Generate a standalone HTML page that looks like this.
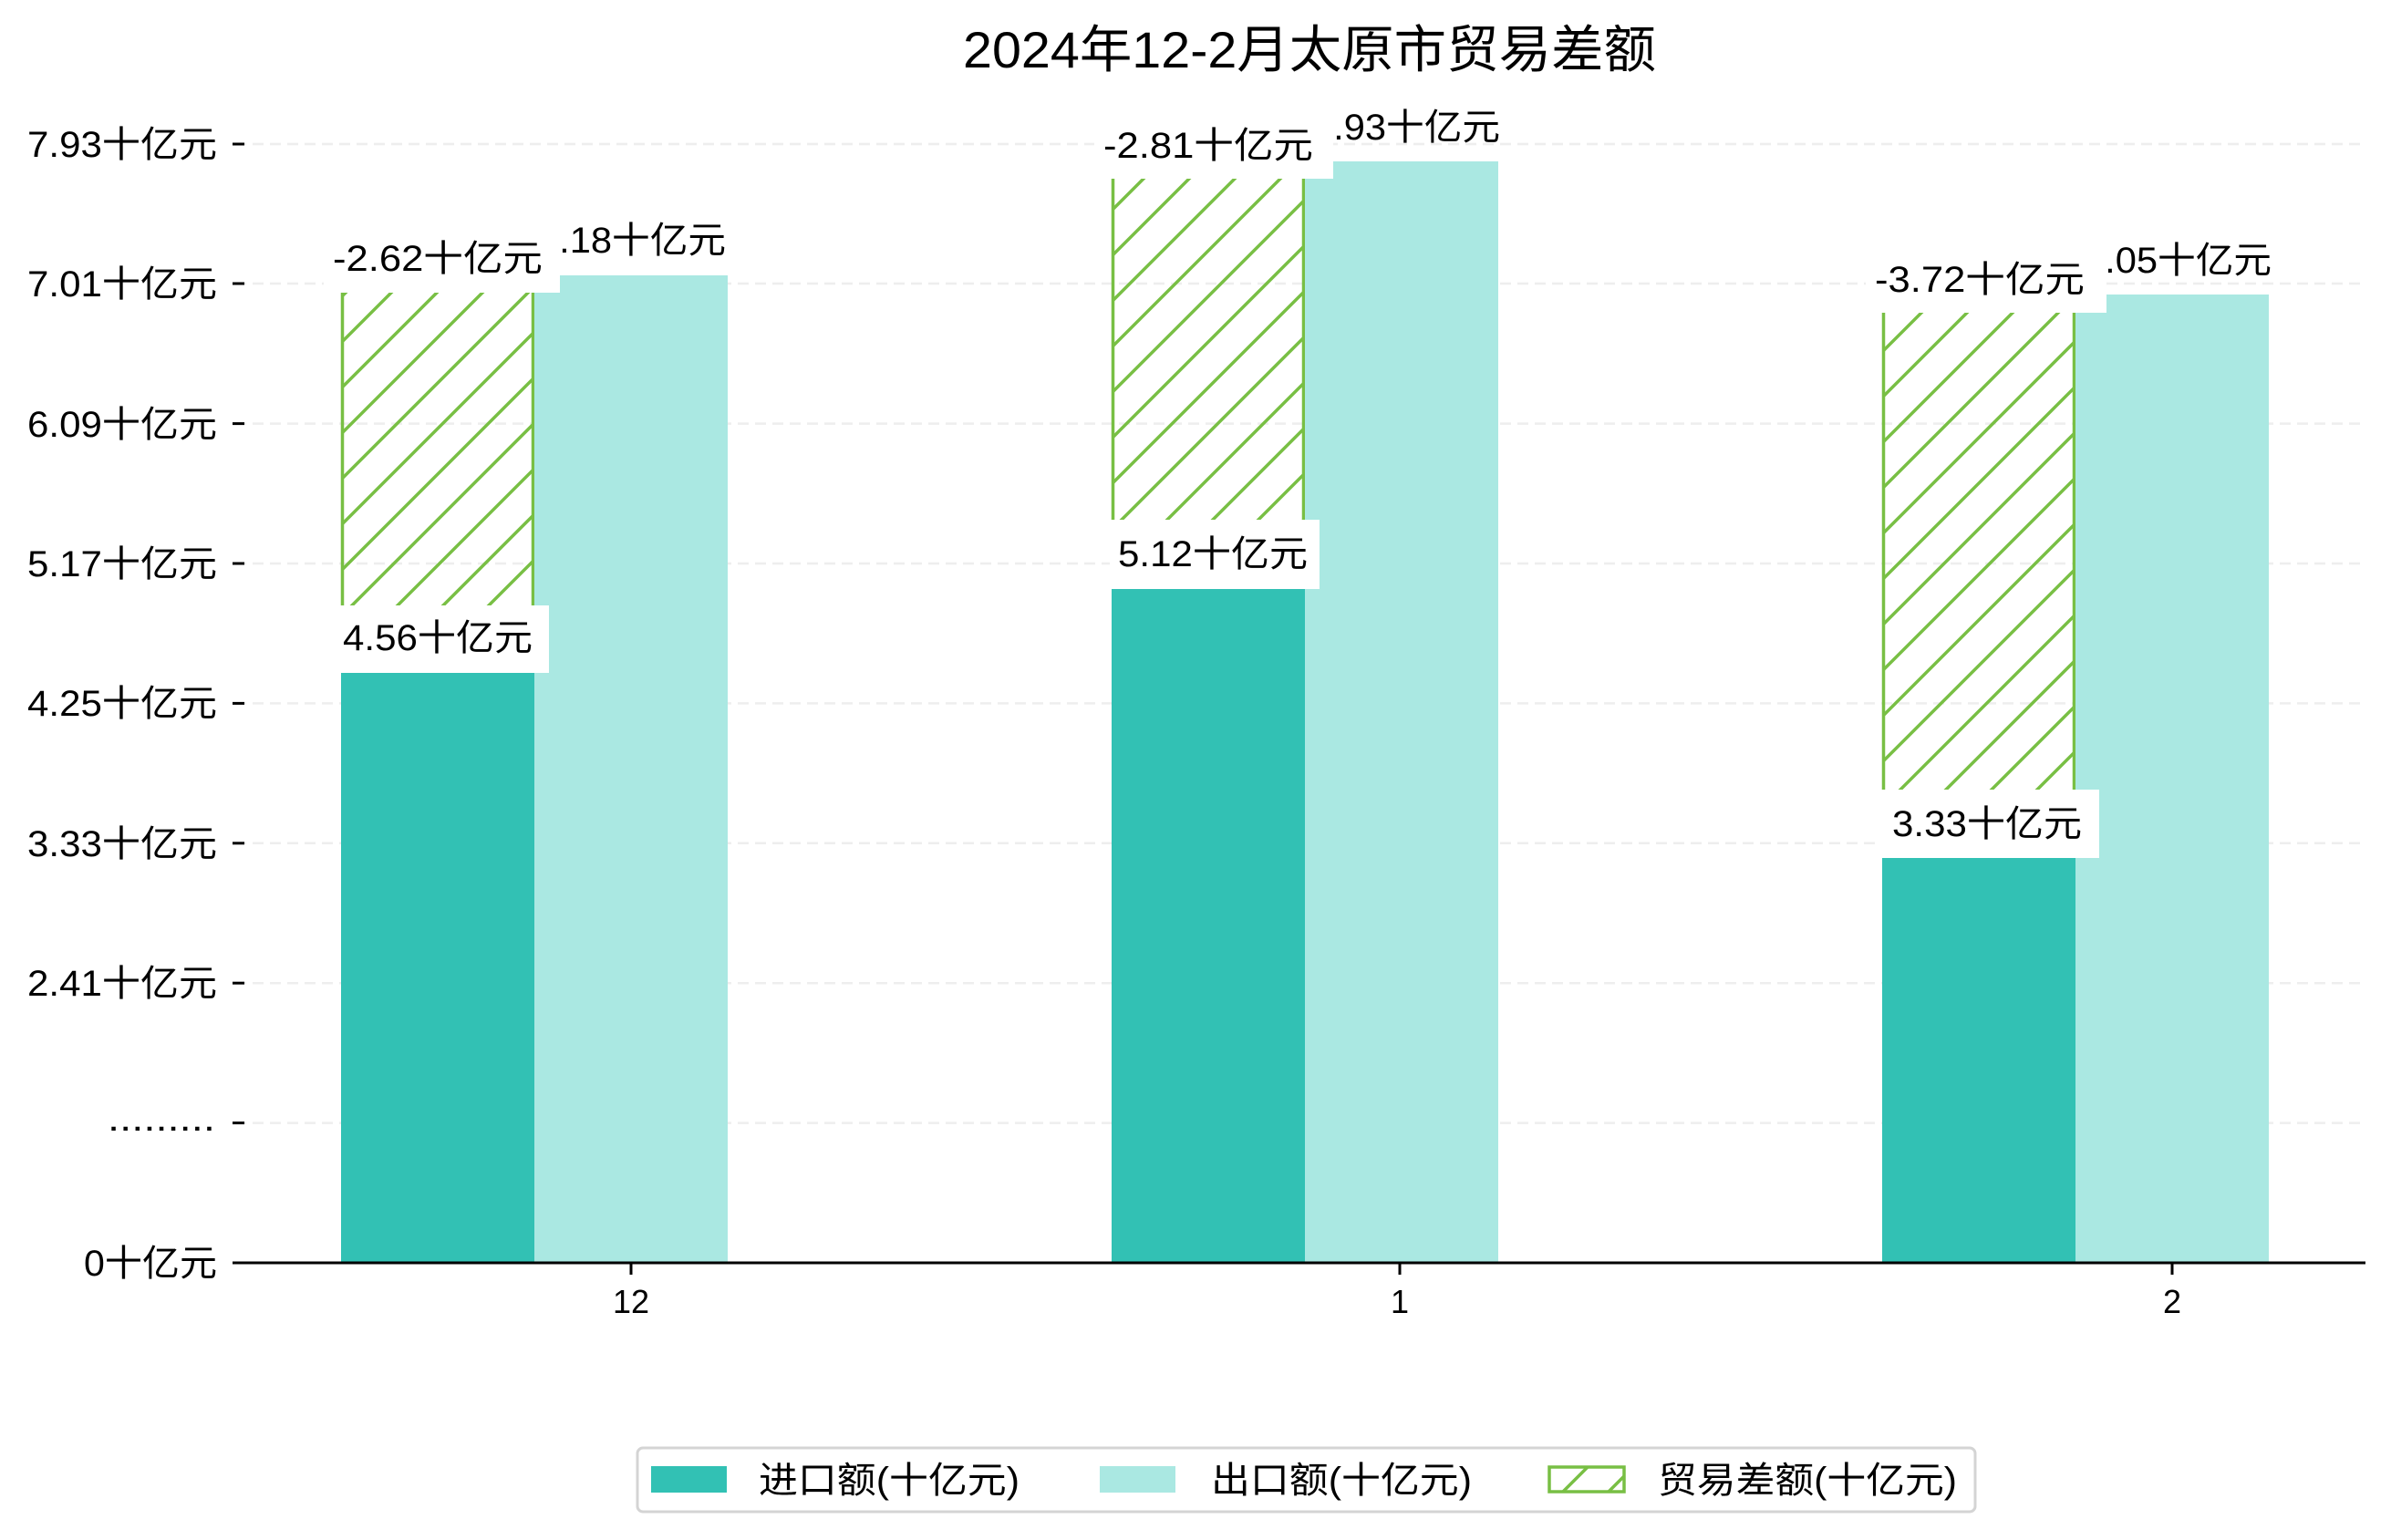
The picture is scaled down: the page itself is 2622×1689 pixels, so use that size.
<!DOCTYPE html>
<html><head><meta charset="utf-8"><style>
html,body{margin:0;padding:0;background:#fff;}
svg{display:block;}
text{font-family:"Liberation Sans","Noto Sans CJK SC",sans-serif;fill:#000;}
</style></head><body>
<svg width="2622" height="1689" viewBox="0 0 2622 1689" xmlns="http://www.w3.org/2000/svg">
<defs>
<pattern id="h" patternUnits="userSpaceOnUse" width="50" height="50">
<path d="M0,50 L50,0 M-10,10 L10,-10 M40,60 L60,40" stroke="#78bf44" stroke-width="3.5"/>
</pattern>
</defs>
<rect width="2622" height="1689" fill="#fff"/>
<text x="1436" y="74" font-size="56" text-anchor="middle" textLength="760" lengthAdjust="spacingAndGlyphs">2024年12-2月太原市贸易差额</text>
<g stroke="#eeeeee" stroke-width="2.5" stroke-dasharray="12,7">
<line x1="258" x2="2594" y1="158" y2="158"/>
<line x1="258" x2="2594" y1="311" y2="311"/>
<line x1="258" x2="2594" y1="464.6" y2="464.6"/>
<line x1="258" x2="2594" y1="618" y2="618"/>
<line x1="258" x2="2594" y1="771.4" y2="771.4"/>
<line x1="258" x2="2594" y1="924.8" y2="924.8"/>
<line x1="258" x2="2594" y1="1078.2" y2="1078.2"/>
<line x1="258" x2="2594" y1="1231.6" y2="1231.6"/>
</g>
<g stroke="#000" stroke-width="3">
<line x1="255" x2="268" y1="158" y2="158"/>
<line x1="255" x2="268" y1="311" y2="311"/>
<line x1="255" x2="268" y1="464.6" y2="464.6"/>
<line x1="255" x2="268" y1="618" y2="618"/>
<line x1="255" x2="268" y1="771.4" y2="771.4"/>
<line x1="255" x2="268" y1="924.8" y2="924.8"/>
<line x1="255" x2="268" y1="1078.2" y2="1078.2"/>
<line x1="255" x2="268" y1="1231.6" y2="1231.6"/>
<line x1="255" x2="268" y1="1385" y2="1385"/>
</g>
<g font-size="40" text-anchor="end">
<text x="238" y="172" textLength="208" lengthAdjust="spacingAndGlyphs">7.93十亿元</text>
<text x="238" y="325" textLength="208" lengthAdjust="spacingAndGlyphs">7.01十亿元</text>
<text x="238" y="479" textLength="208" lengthAdjust="spacingAndGlyphs">6.09十亿元</text>
<text x="238" y="632" textLength="208" lengthAdjust="spacingAndGlyphs">5.17十亿元</text>
<text x="238" y="785" textLength="208" lengthAdjust="spacingAndGlyphs">4.25十亿元</text>
<text x="238" y="939" textLength="208" lengthAdjust="spacingAndGlyphs">3.33十亿元</text>
<text x="238" y="1092" textLength="208" lengthAdjust="spacingAndGlyphs">2.41十亿元</text>
<text x="236" y="1240" textLength="118" lengthAdjust="spacingAndGlyphs">.........</text>
<text x="238" y="1399" textLength="146" lengthAdjust="spacingAndGlyphs">0十亿元</text>
</g>
<rect x="374" y="321" width="212" height="343" fill="url(#h)"/>
<line x1="375.5" x2="375.5" y1="321" y2="664" stroke="#78bf44" stroke-width="3.5"/>
<line x1="584.5" x2="584.5" y1="321" y2="664" stroke="#78bf44" stroke-width="3.5"/>
<rect x="586" y="302" width="212" height="1082" fill="#aae8e2"/>
<rect x="374" y="738" width="212" height="646" fill="#32c1b4"/>
<rect x="1219" y="196" width="212" height="374" fill="url(#h)"/>
<line x1="1220.5" x2="1220.5" y1="196" y2="570" stroke="#78bf44" stroke-width="3.5"/>
<line x1="1429.5" x2="1429.5" y1="196" y2="570" stroke="#78bf44" stroke-width="3.5"/>
<rect x="1431" y="177" width="212" height="1207" fill="#aae8e2"/>
<rect x="1219" y="646" width="212" height="738" fill="#32c1b4"/>
<rect x="2064" y="343" width="212" height="523" fill="url(#h)"/>
<line x1="2065.5" x2="2065.5" y1="343" y2="866" stroke="#78bf44" stroke-width="3.5"/>
<line x1="2274.5" x2="2274.5" y1="343" y2="866" stroke="#78bf44" stroke-width="3.5"/>
<rect x="2276" y="323" width="212" height="1061" fill="#aae8e2"/>
<rect x="2064" y="941" width="212" height="443" fill="#32c1b4"/>
<g font-size="40">
<text x="590" y="277" textLength="206" lengthAdjust="spacingAndGlyphs">7.18十亿元</text>
<rect x="355" y="245" width="259" height="76" fill="#fff"/>
<text x="365" y="297" textLength="230" lengthAdjust="spacingAndGlyphs">-2.62十亿元</text>
<rect x="371" y="664" width="231" height="74" fill="#fff"/>
<text x="376" y="713" textLength="208" lengthAdjust="spacingAndGlyphs">4.56十亿元</text>

<text x="1439" y="153" textLength="206" lengthAdjust="spacingAndGlyphs">7.93十亿元</text>
<rect x="1200" y="120" width="262" height="76" fill="#fff"/>
<text x="1210" y="173" textLength="230" lengthAdjust="spacingAndGlyphs">-2.81十亿元</text>
<rect x="1217" y="570" width="230" height="76" fill="#fff"/>
<text x="1226" y="621" textLength="208" lengthAdjust="spacingAndGlyphs">5.12十亿元</text>

<text x="2285" y="299" textLength="206" lengthAdjust="spacingAndGlyphs">7.05十亿元</text>
<rect x="2046" y="267" width="264" height="76" fill="#fff"/>
<text x="2056" y="320" textLength="230" lengthAdjust="spacingAndGlyphs">-3.72十亿元</text>
<rect x="2063" y="866" width="239" height="75" fill="#fff"/>
<text x="2075" y="917" textLength="208" lengthAdjust="spacingAndGlyphs">3.33十亿元</text>
</g>
<line x1="255" x2="2594" y1="1385" y2="1385" stroke="#000" stroke-width="3"/>
<g stroke="#000" stroke-width="3">
<line x1="692" x2="692" y1="1385" y2="1398"/>
<line x1="1535" x2="1535" y1="1385" y2="1398"/>
<line x1="2382" x2="2382" y1="1385" y2="1398"/>
</g>
<g font-size="36" text-anchor="middle">
<text x="692" y="1440">12</text>
<text x="1535" y="1440">1</text>
<text x="2382" y="1440">2</text>
</g>
<rect x="699" y="1588" width="1467" height="70" rx="6" fill="#fff" stroke="#d4d4d4" stroke-width="3"/>
<rect x="714" y="1608" width="83" height="29" fill="#32c1b4"/>
<rect x="1206" y="1608" width="83" height="29" fill="#aae8e2"/>
<rect x="1699" y="1609" width="82" height="27" fill="url(#h)" stroke="#78bf44" stroke-width="3.5"/>
<g font-size="40">
<text x="832" y="1637" textLength="286" lengthAdjust="spacingAndGlyphs">进口额(十亿元)</text>
<text x="1328" y="1637" textLength="286" lengthAdjust="spacingAndGlyphs">出口额(十亿元)</text>
<text x="1818" y="1637" textLength="328" lengthAdjust="spacingAndGlyphs">贸易差额(十亿元)</text>
</g>
</svg>
</body></html>
